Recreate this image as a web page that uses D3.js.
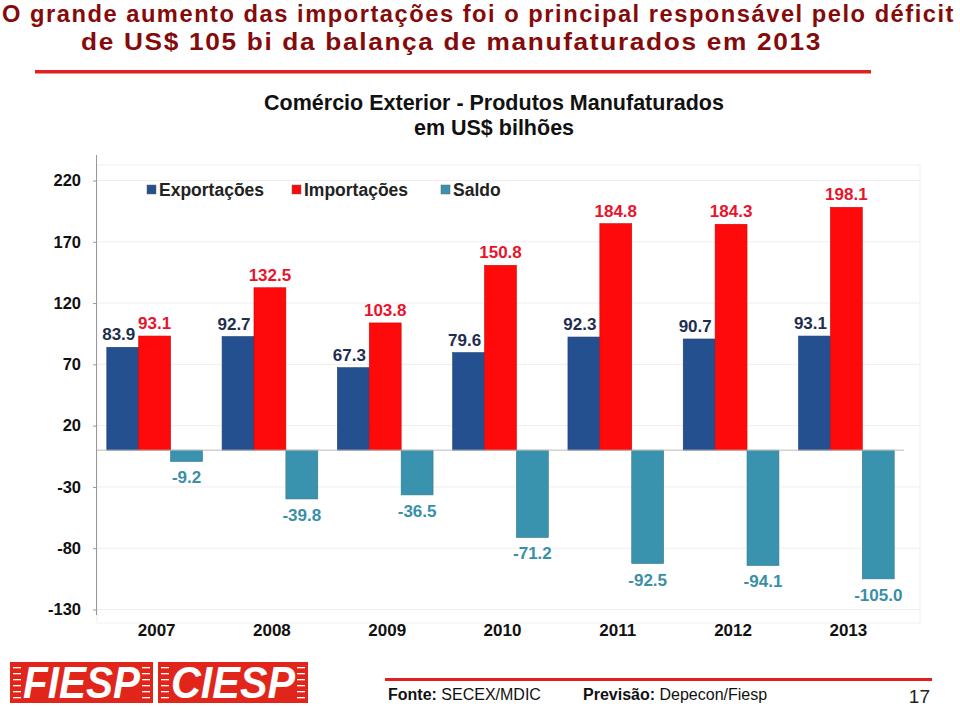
<!DOCTYPE html>
<html><head><meta charset="utf-8">
<script src="https://cdn.jsdelivr.net/npm/d3@7"></script>
<style>body{margin:0;background:#fff}svg{display:block}</style>
</head><body>
<script>
const years = ["2007","2008","2009","2010","2011","2012","2013"];
const exportacoes = [83.9, 92.7, 67.3, 79.6, 92.3, 90.7, 93.1];
const importacoes = [93.1, 132.5, 103.8, 150.8, 184.8, 184.3, 198.1];
const saldo = [-9.2, -39.8, -36.5, -71.2, -92.5, -94.1, -105.0];
const yTicks = [220, 170, 120, 70, 20, -30, -80, -130];
const seriesNames = ["Exportações", "Importações", "Saldo"];

const W = 960, H = 707;
const svg = d3.select("body").append("svg").attr("width", W).attr("height", H);
const colors = ["#24508F", "#FF0A0A", "#3A93AE"];
const labelColors = ["#1F2E4E", "#E8142C", "#3A8FA8"];
const fmt1 = v => d3.format(".1f")(v).replace("\u2212", "-");

// Title
const tf = "'Liberation Sans',Arial,sans-serif";
svg.append("text").attr("x", 2).attr("y", 22).attr("textLength", 953).attr("lengthAdjust", "spacingAndGlyphs")
  .attr("font-family", tf).attr("font-weight", "bold").attr("font-size", 23.5).attr("letter-spacing", 1.5).attr("fill", "#850A0A")
  .text("O grande aumento das importações foi o principal responsável pelo déficit");
svg.append("text").attr("x", 81).attr("y", 50).attr("textLength", 741).attr("lengthAdjust", "spacingAndGlyphs")
  .attr("font-family", tf).attr("font-weight", "bold").attr("font-size", 23.5).attr("letter-spacing", 1.5).attr("fill", "#850A0A")
  .text("de US$ 105 bi da balança de manufaturados em 2013");
svg.append("rect").attr("x", 35).attr("y", 70).attr("width", 836).attr("height", 3.5).attr("fill", "#E0201E");

// Subtitle
const af = "'Liberation Sans',Arial,sans-serif";
svg.append("text").attr("x", 494).attr("y", 110).attr("text-anchor", "middle")
  .attr("font-family", af).attr("font-weight", "bold").attr("font-size", 21.5).attr("fill", "#111")
  .text("Comércio Exterior - Produtos Manufaturados");
svg.append("text").attr("x", 494).attr("y", 135).attr("text-anchor", "middle")
  .attr("font-family", af).attr("font-weight", "bold").attr("font-size", 21.5).attr("fill", "#111")
  .text("em US$ bilhões");

// Scales
const x0 = d3.scaleBand().domain(years).range([97, 904]).paddingInner(0.17).paddingOuter(0.085);
const x1 = d3.scaleBand().domain([0,1,2]).range([0, x0.bandwidth()]);
const y = d3.scaleLinear().domain([-130, 220]).range([609.5, 180.5]);

// plot frame & grid
svg.append("rect").attr("x", 97).attr("y", 165).attr("width", 823).attr("height", 458)
  .attr("fill", "none").attr("stroke", "#f0f0f0");
svg.append("g").selectAll("line").data(yTicks).join("line")
  .attr("x1", 97).attr("x2", 920).attr("y1", d => y(d)).attr("y2", d => y(d))
  .attr("stroke", "#eeeeee").attr("stroke-width", 1);

// Y axis
const yAxis = d3.axisLeft(y).tickValues(yTicks).tickSize(4).tickPadding(12).tickFormat(d => String(d));
const ga = svg.append("g").attr("transform", "translate(97,0)").call(yAxis);
ga.select(".domain").attr("d", `M-0.5,${155}V${615}`).attr("stroke", "#999");
ga.selectAll(".tick line").attr("stroke", "#999");
ga.selectAll(".tick text").attr("font-family", af).attr("font-weight", "bold").attr("font-size", 16.5).attr("fill", "#111");

// Bars
const data = years.map((yr, i) => ({yr, vals: [exportacoes[i], importacoes[i], saldo[i]]}));
const groups = svg.append("g").selectAll("g").data(data).join("g")
  .attr("transform", d => `translate(${x0(d.yr)},0)`);
groups.selectAll("rect").data(d => d.vals.map((v, k) => ({v, k}))).join("rect")
  .attr("x", d => x1(d.k)).attr("width", x1.bandwidth())
  .attr("y", d => y(Math.max(0, d.v))).attr("height", d => Math.abs(y(d.v) - y(0)))
  .attr("fill", d => colors[d.k])
  .attr("stroke", d => d3.color(colors[d.k]).darker(0.6)).attr("stroke-width", 0.6);
groups.selectAll("text").data(d => d.vals.map((v, k) => ({v, k}))).join("text")
  .attr("x", d => x1(d.k) + x1.bandwidth() / 2 + (d.k === 0 ? -4 : 0))
  .attr("y", d => d.v >= 0 ? y(d.v) - 7 : y(d.v) + 22)
  .attr("text-anchor", "middle").attr("font-family", af).attr("font-weight", "bold").attr("font-size", 17)
  .attr("fill", d => labelColors[d.k])
  .text(d => fmt1(d.v));

// zero line
svg.append("line").attr("x1", 97).attr("x2", 904).attr("y1", y(0)).attr("y2", y(0))
  .attr("stroke", "#bbb").attr("stroke-width", 1);

// X labels
svg.append("g").selectAll("text").data(years).join("text")
  .attr("x", d => x0(d) + x0.bandwidth() / 2 + 2).attr("y", 636).attr("text-anchor", "middle")
  .attr("font-family", af).attr("font-weight", "bold").attr("font-size", 17).attr("fill", "#111")
  .text(d => d);

// Legend
const legX = [147, 292, 441];
const lg = svg.append("g").selectAll("g").data(seriesNames).join("g")
  .attr("transform", (d, i) => `translate(${legX[i]},190)`);
lg.append("rect").attr("x", 0).attr("y", -5).attr("width", 9).attr("height", 9)
  .attr("fill", (d, i) => colors[i]).attr("stroke", "#666").attr("stroke-width", 0.5);
lg.append("text").attr("x", 12).attr("y", 6).attr("font-family", af).attr("font-weight", "bold")
  .attr("font-size", 17.5).attr("fill", "#222").text(d => d);

// Footer logos
function logo(xp, w, txt) {
  const g = svg.append("g").attr("transform", `translate(${xp},662)`);
  g.append("rect").attr("width", w).attr("height", 41).attr("fill", "#E1251B");
  for (let k = 0; k < 6; k++) {
    g.append("rect").attr("x", 3).attr("y", 5 + k * 6).attr("width", 8).attr("height", 1.3).attr("fill", "#fff");
    g.append("rect").attr("x", w - 11).attr("y", 5 + k * 6).attr("width", 8).attr("height", 1.3).attr("fill", "#fff");
  }
  g.append("text").attr("x", w / 2).attr("y", 36).attr("text-anchor", "middle")
    .attr("font-family", af).attr("font-weight", "bold").attr("font-style", "italic")
    .attr("font-size", 44).attr("textLength", w - 26).attr("lengthAdjust", "spacingAndGlyphs")
    .attr("fill", "#fff").text(txt);
}
logo(10, 143, "FIESP");
logo(158, 150, "CIESP");

svg.append("rect").attr("x", 385).attr("y", 678).attr("width", 547).attr("height", 3).attr("fill", "#E0201E");
const ft = svg.append("text").attr("x", 388).attr("y", 700).attr("font-family", tf).attr("font-size", 16).attr("fill", "#111");
ft.append("tspan").attr("font-weight", "bold").text("Fonte: ");
ft.append("tspan").text("SECEX/MDIC");
const pv = svg.append("text").attr("x", 583).attr("y", 700).attr("font-family", tf).attr("font-size", 16).attr("fill", "#111");
pv.append("tspan").attr("font-weight", "bold").text("Previsão: ");
pv.append("tspan").text("Depecon/Fiesp");
svg.append("text").attr("x", 930).attr("y", 703).attr("text-anchor", "end").attr("font-family", tf)
  .attr("font-size", 19).attr("fill", "#222").text("17");
</script>
</body></html>
